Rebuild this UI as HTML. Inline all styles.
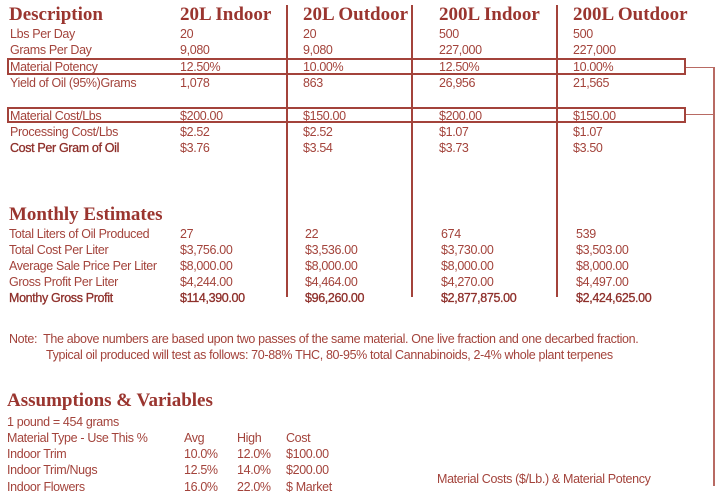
<!DOCTYPE html>
<html><head><meta charset="utf-8"><style>
body{margin:0;width:720px;height:486px;background:#fff;overflow:hidden;position:relative;font-family:"Liberation Sans",sans-serif;color:#a3433b}
.t{position:absolute;font-size:12.5px;line-height:16px;white-space:nowrap;letter-spacing:-0.35px}
.h{position:absolute;font-family:"Liberation Serif",serif;font-weight:bold;font-size:19px;line-height:22px;white-space:nowrap;color:#9a352f}
.b{color:#8e2f2a;-webkit-text-stroke:0.3px #8e2f2a}
.v{position:absolute;width:2px;background:#a3433b}
.box{position:absolute;border:2px solid #a3433b;box-sizing:border-box}
.ln{position:absolute;background:#b86a63}
</style></head><body>
<div class="v" style="left:286px;top:5px;height:292px"></div>
<div class="v" style="left:411px;top:5px;height:292px"></div>
<div class="v" style="left:556px;top:5px;height:292px"></div>
<div class="ln" style="left:713px;top:67px;width:2px;height:419px"></div>
<div class="box" style="left:7px;top:58px;width:679px;height:17px"></div>
<div class="box" style="left:7px;top:107px;width:679px;height:16px"></div>
<div class="ln" style="left:686px;top:67px;width:28px;height:1px"></div>
<div class="ln" style="left:686px;top:114px;width:28px;height:1px"></div>

<div class="h" style="left:9px;top:4px">Description</div>
<div class="h" style="left:180px;top:4px">20L Indoor</div>
<div class="h" style="left:303px;top:4px">20L Outdoor</div>
<div class="h" style="left:439px;top:4px">200L Indoor</div>
<div class="h" style="left:573px;top:4px">200L Outdoor</div>

<div class="t" style="left:10px;top:26px">Lbs Per Day</div>
<div class="t" style="left:10px;top:42px">Grams Per Day</div>
<div class="t" style="left:10px;top:59px">Material Potency</div>
<div class="t" style="left:10px;top:75px">Yield of Oil (95%)Grams</div>
<div class="t" style="left:10px;top:108px">Material Cost/Lbs</div>
<div class="t" style="left:10px;top:124px">Processing Cost/Lbs</div>
<div class="t b" style="left:10px;top:140px">Cost Per Gram of Oil</div>

<div class="t" style="left:180px;top:26px">20</div>
<div class="t" style="left:180px;top:42px">9,080</div>
<div class="t" style="left:180px;top:59px">12.50%</div>
<div class="t" style="left:180px;top:75px">1,078</div>
<div class="t" style="left:180px;top:108px">$200.00</div>
<div class="t" style="left:180px;top:124px">$2.52</div>
<div class="t" style="left:180px;top:140px">$3.76</div>

<div class="t" style="left:303px;top:26px">20</div>
<div class="t" style="left:303px;top:42px">9,080</div>
<div class="t" style="left:303px;top:59px">10.00%</div>
<div class="t" style="left:303px;top:75px">863</div>
<div class="t" style="left:303px;top:108px">$150.00</div>
<div class="t" style="left:303px;top:124px">$2.52</div>
<div class="t" style="left:303px;top:140px">$3.54</div>

<div class="t" style="left:439px;top:26px">500</div>
<div class="t" style="left:439px;top:42px">227,000</div>
<div class="t" style="left:439px;top:59px">12.50%</div>
<div class="t" style="left:439px;top:75px">26,956</div>
<div class="t" style="left:439px;top:108px">$200.00</div>
<div class="t" style="left:439px;top:124px">$1.07</div>
<div class="t" style="left:439px;top:140px">$3.73</div>

<div class="t" style="left:573px;top:26px">500</div>
<div class="t" style="left:573px;top:42px">227,000</div>
<div class="t" style="left:573px;top:59px">10.00%</div>
<div class="t" style="left:573px;top:75px">21,565</div>
<div class="t" style="left:573px;top:108px">$150.00</div>
<div class="t" style="left:573px;top:124px">$1.07</div>
<div class="t" style="left:573px;top:140px">$3.50</div>

<div class="h" style="left:9px;top:204px">Monthly Estimates</div>
<div class="t" style="left:9px;top:226px">Total Liters of Oil Produced</div>
<div class="t" style="left:9px;top:242px">Total Cost Per Liter</div>
<div class="t" style="left:9px;top:258px">Average Sale Price Per Liter</div>
<div class="t" style="left:9px;top:274px">Gross Profit Per Liter</div>
<div class="t b" style="left:9px;top:290px">Monthy Gross Profit</div>

<div class="t" style="left:180px;top:226px">27</div>
<div class="t" style="left:180px;top:242px">$3,756.00</div>
<div class="t" style="left:180px;top:258px">$8,000.00</div>
<div class="t" style="left:180px;top:274px">$4,244.00</div>
<div class="t b" style="left:180px;top:290px">$114,390.00</div>

<div class="t" style="left:305px;top:226px">22</div>
<div class="t" style="left:305px;top:242px">$3,536.00</div>
<div class="t" style="left:305px;top:258px">$8,000.00</div>
<div class="t" style="left:305px;top:274px">$4,464.00</div>
<div class="t b" style="left:305px;top:290px">$96,260.00</div>

<div class="t" style="left:441px;top:226px">674</div>
<div class="t" style="left:441px;top:242px">$3,730.00</div>
<div class="t" style="left:441px;top:258px">$8,000.00</div>
<div class="t" style="left:441px;top:274px">$4,270.00</div>
<div class="t b" style="left:441px;top:290px">$2,877,875.00</div>

<div class="t" style="left:576px;top:226px">539</div>
<div class="t" style="left:576px;top:242px">$3,503.00</div>
<div class="t" style="left:576px;top:258px">$8,000.00</div>
<div class="t" style="left:576px;top:274px">$4,497.00</div>
<div class="t b" style="left:576px;top:290px">$2,424,625.00</div>

<div class="t" style="left:9px;top:331px">Note:&nbsp; The above numbers are based upon two passes of the same material. One live fraction and one decarbed fraction.</div>
<div class="t" style="left:46px;top:347px">Typical oil produced will test as follows: 70-88% THC, 80-95% total Cannabinoids, 2-4% whole plant terpenes</div>

<div class="h" style="left:7px;top:390px">Assumptions &amp; Variables</div>
<div class="t" style="left:7px;top:414px">1 pound = 454 grams</div>
<div class="t" style="left:7px;top:430px">Material Type - Use This %</div>
<div class="t" style="left:184px;top:430px">Avg</div>
<div class="t" style="left:237px;top:430px">High</div>
<div class="t" style="left:286px;top:430px">Cost</div>
<div class="t" style="left:7px;top:446px">Indoor Trim</div>
<div class="t" style="left:184px;top:446px">10.0%</div>
<div class="t" style="left:237px;top:446px">12.0%</div>
<div class="t" style="left:286px;top:446px">$100.00</div>
<div class="t" style="left:7px;top:462px">Indoor Trim/Nugs</div>
<div class="t" style="left:184px;top:462px">12.5%</div>
<div class="t" style="left:237px;top:462px">14.0%</div>
<div class="t" style="left:286px;top:462px">$200.00</div>
<div class="t" style="left:7px;top:479px">Indoor Flowers</div>
<div class="t" style="left:184px;top:479px">16.0%</div>
<div class="t" style="left:237px;top:479px">22.0%</div>
<div class="t" style="left:286px;top:479px">$ Market</div>
<div class="t" style="left:437px;top:471px">Material Costs ($/Lb.) &amp; Material Potency</div>
</body></html>
